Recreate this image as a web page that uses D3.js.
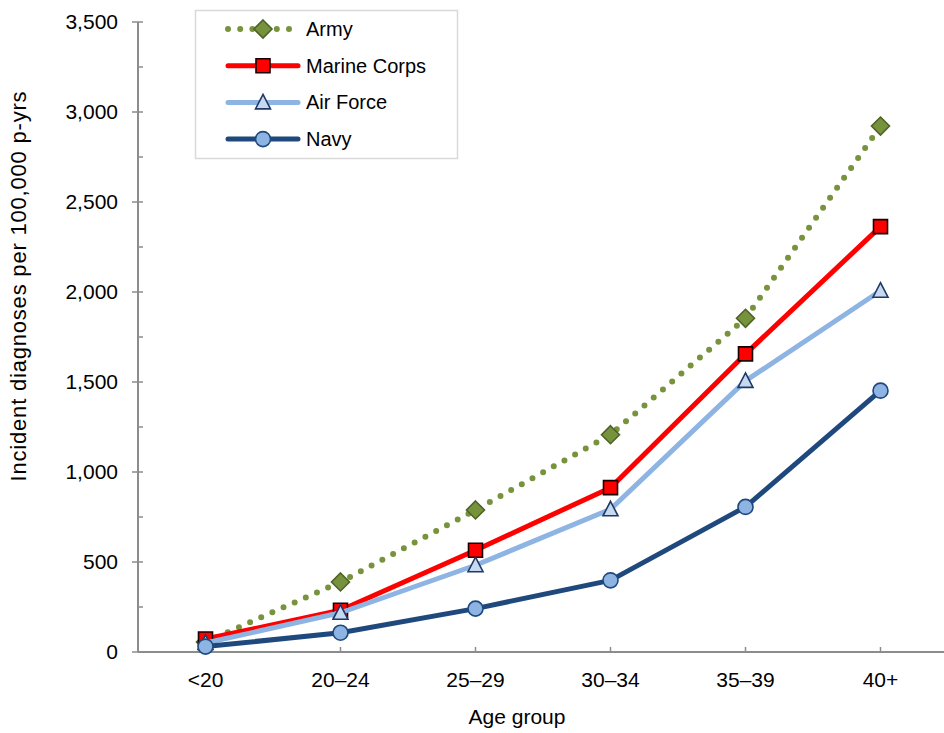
<!DOCTYPE html>
<html>
<head>
<meta charset="utf-8">
<script src="https://cdn.jsdelivr.net/npm/d3@7"></script>
<style>
  html, body { margin: 0; padding: 0; background: #fff; }
  svg { display: block; font-family: "Liberation Sans", Arial, sans-serif; }
</style>
</head>
<body>
<svg id="chart" width="944" height="733"></svg>
<script>
const categories = ["<20", "20–24", "25–29", "30–34", "35–39", "40+"];
const army = [55, 389, 789, 1207, 1854, 2922];
const marineCorps = [72, 232, 565, 913, 1656, 2363];
const airForce = [50, 218, 482, 793, 1506, 2007];
const navy = [30, 107, 241, 398, 806, 1452];
const yTicks = [0, 500, 1000, 1500, 2000, 2500, 3000, 3500];
const yMinorTicks = [250, 750, 1250, 1750, 2250, 2750, 3250];

const series = [
  { name: "Army", values: army, line: "#77933C", width: 6, dash: "0 12.2", marker: "diamond", fill: "#76923C", stroke: "#4F6228" },
  { name: "Marine Corps", values: marineCorps, line: "#FF0000", width: 5, dash: null, marker: "square", fill: "#FF0000", stroke: "#1a0000" },
  { name: "Air Force", values: airForce, line: "#8DB4E2", width: 5, dash: null, marker: "triangle", fill: "#C6D9F1", stroke: "#1F3864" },
  { name: "Navy", values: navy, line: "#1F497D", width: 5, dash: null, marker: "circle", fill: "#8DB4E2", stroke: "#1F497D" }
];

const svg = d3.select("#chart");
const mLeft = 138, mRight = 948, mTop = 22, mBottom = 652;

const x = d3.scalePoint().domain(categories).range([mLeft, mRight]).padding(0.5);
const y = d3.scaleLinear().domain([0, 3500]).range([mBottom, mTop]);

const axisColor = "#8c8c8c";

// Y axis
const yAxis = svg.append("g").attr("transform", `translate(${mLeft},0)`);
yAxis.append("line").attr("x1", 0).attr("x2", 0).attr("y1", y(0)).attr("y2", y(3500))
  .attr("stroke", axisColor).attr("stroke-width", 2);
yAxis.selectAll(".maj").data(yTicks).enter().append("line")
  .attr("x1", -6).attr("x2", 5).attr("y1", d => y(d)).attr("y2", d => y(d))
  .attr("stroke", axisColor).attr("stroke-width", 1.5);
yAxis.selectAll(".min").data(yMinorTicks).enter().append("line")
  .attr("x1", 0).attr("x2", 5).attr("y1", d => y(d)).attr("y2", d => y(d))
  .attr("stroke", axisColor).attr("stroke-width", 1.5);
yAxis.selectAll("text").data(yTicks).enter().append("text")
  .attr("x", -20).attr("y", d => y(d)).attr("dy", "0.35em")
  .attr("text-anchor", "end").attr("font-size", 21).attr("fill", "#000")
  .text(d => d3.format(",")(d));

// X axis
const xAxis = svg.append("g");
xAxis.append("line").attr("x1", mLeft).attr("x2", mRight).attr("y1", mBottom).attr("y2", mBottom)
  .attr("stroke", axisColor).attr("stroke-width", 2);
xAxis.selectAll(".xt").data(categories).enter().append("line")
  .attr("x1", d => x(d)).attr("x2", d => x(d)).attr("y1", mBottom).attr("y2", mBottom - 5)
  .attr("stroke", axisColor).attr("stroke-width", 1.5);
xAxis.selectAll("text").data(categories).enter().append("text")
  .attr("x", d => x(d)).attr("y", 687).attr("text-anchor", "middle")
  .attr("font-size", 21).attr("fill", "#000").text(d => d);

// Axis titles
svg.append("text").attr("x", 517).attr("y", 724).attr("text-anchor", "middle")
  .attr("font-size", 21).attr("fill", "#000").text("Age group");
svg.append("text").attr("transform", `translate(26,286) rotate(-90)`)
  .attr("text-anchor", "middle").attr("font-size", 22).attr("letter-spacing", 0.8)
  .attr("fill", "#000")
  .text("Incident diagnoses per 100,000 p-yrs");

function markerPath(type) {
  if (type === "diamond") return "M0,-9L9,0L0,9L-9,0Z";
  if (type === "square") return "M-7,-7H7V7H-7Z";
  if (type === "triangle") return "M0,-8L7.5,6.5H-7.5Z";
  return d3.symbol().type(d3.symbolCircle).size(Math.PI * 7.5 * 7.5)();
}

function drawMarker(g, type, fill, stroke, cx, cy) {
  g.append("path").attr("d", markerPath(type))
    .attr("transform", `translate(${cx},${cy})`)
    .attr("fill", fill).attr("stroke", stroke).attr("stroke-width", 1.6);
}

const line = d3.line().x((d, i) => x(categories[i])).y(d => y(d));

const plot = svg.append("g");
series.forEach(s => {
  const g = plot.append("g");
  g.append("path").datum(s.values).attr("d", line)
    .attr("fill", "none").attr("stroke", s.line).attr("stroke-width", s.width)
    .attr("stroke-linecap", s.dash ? "round" : "butt")
    .attr("stroke-linejoin", "round")
    .attr("stroke-dasharray", s.dash);
  s.values.forEach((v, i) => drawMarker(g, s.marker, s.fill, s.stroke, x(categories[i]), y(v)));
});

// Legend
const legend = svg.append("g");
legend.append("rect").attr("x", 195.5).attr("y", 10.5).attr("width", 262).attr("height", 148)
  .attr("fill", "#fff").attr("stroke", "#d9d9d9").attr("stroke-width", 1.5);
series.forEach((s, i) => {
  const ly = 29 + i * 36.7;
  const g = legend.append("g");
  g.append("line").attr("x1", 228).attr("x2", 298).attr("y1", ly).attr("y2", ly)
    .attr("stroke", s.line).attr("stroke-width", s.width)
    .attr("stroke-linecap", "round")
    .attr("stroke-dasharray", s.dash);
  drawMarker(g, s.marker, s.fill, s.stroke, 263, ly);
  g.append("text").attr("x", 306).attr("y", ly).attr("dy", "0.35em")
    .attr("font-size", 20).attr("fill", "#000").text(s.name);
});
</script>
</body>
</html>
